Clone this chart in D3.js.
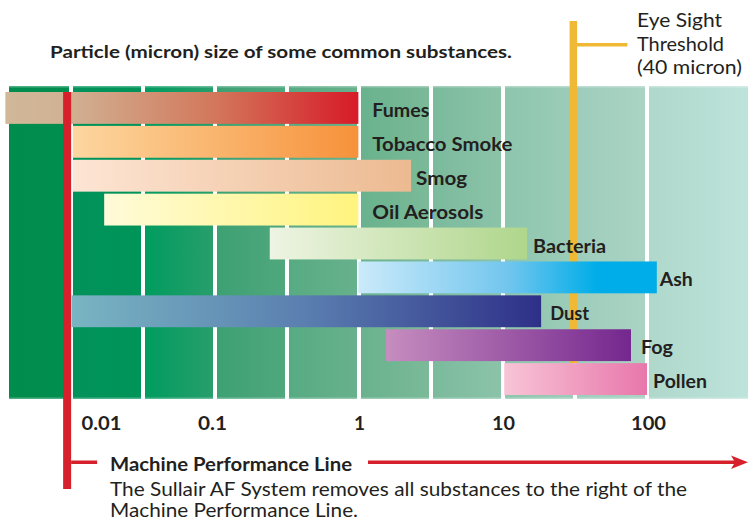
<!DOCTYPE html>
<html><head><meta charset="utf-8">
<script src="https://cdn.jsdelivr.net/npm/d3@7"></script>
<style>body{margin:0;background:#fff}svg{display:block}</style>
</head><body><svg id="c" width="748" height="524"></svg>
<script>
// ---------- data ----------
const substances = ["Fumes","Tobacco Smoke","Smog","Oil Aerosols","Bacteria","Ash","Dust","Fog","Pollen"];
const minSize = [0.0035, 0.0103, 0.0103, 0.017, 0.24, 0.99, 0.0101, 1.54, 10.2];
const maxSize = [0.99, 0.99, 2.3, 0.99, 14.7, 117, 18.4, 77.4, 100];
const tickValues = [0.01, 0.1, 1, 10, 100];
const tickLabels = ["0.01", "0.1", "1", "10", "100"];
const machineLine = 0.0094;   // micron, position of the machine performance line
const eyeThreshold = 30.8;    // micron, where the eye-sight line is drawn
const titleText = "Particle (micron) size of some common substances.";
const eyeLabel = ["Eye Sight", "Threshold", "(40 micron)"];
const machineTitle = "Machine Performance Line";
const machineNote = ["The Sullair AF System removes all substances to the right of the", "Machine Performance Line."];

// ---------- layout / style ----------
const W = 748, H = 524;
const FONT = "Lato, 'Open Sans', 'DejaVu Sans', sans-serif";
const INK = "#231F20";
const RED = "#D6212C", YELLOW = "#EFB935";
const svg = d3.select("#c");
const defs = svg.append("defs");

const x = d3.scaleLog().domain([0.01, 100]).range([71, 647]);
const y = d3.scaleBand().domain(substances).range([92, 395]).paddingInner(0.06);

function hgrad(id, stops) {
  const g = defs.append("linearGradient").attr("id", id)
    .attr("x1", 0).attr("x2", 1).attr("y1", 0).attr("y2", 0);
  stops.forEach(s => g.append("stop").attr("offset", s[0]).attr("stop-color", s[1]));
  return `url(#${id})`;
}
function fitText(sel, w) {
  if (w) sel.attr("textLength", w).attr("lengthAdjust", "spacingAndGlyphs");
}

// background columns (half-decade bands)
const colTop = 86, colBot = 399;
const colColors = [["#008C4C","#008E4F"],["#00925A","#009459"],["#009C5F","#289E6C"],["#3DA173","#50A87D"],
  ["#57AB82","#67B18C"],["#69B28D","#7BBA99"],["#7BBA9D","#8BC3A9"],["#8DC5AD","#9CCCB8"],
  ["#9ECDBB","#AAD3C4"],["#AFD8CB","#BEE3DB"]];
const colG = svg.append("g");
colColors.forEach((c, k) => {
  const l = k === 0 ? 9 : x(Math.pow(10, -2.5 + k / 2)) + 2;
  const r = k === colColors.length - 1 ? W : x(Math.pow(10, -2 + k / 2)) - 2;
  colG.append("rect").attr("x", l).attr("y", colTop).attr("width", r - l).attr("height", colBot - colTop)
    .attr("fill", hgrad("col" + k, [[0, c[0]], [1, c[1]]]));
  colG.append("rect").attr("x", l).attr("y", colTop).attr("width", r - l).attr("height", 1.5)
    .attr("fill", "#fff").attr("opacity", 0.3);
  colG.append("rect").attr("x", l).attr("y", colBot - 1.5).attr("width", r - l).attr("height", 1.5)
    .attr("fill", "#fff").attr("opacity", 0.3);
});

// eye-sight threshold line (behind bars)
const ex = x(eyeThreshold);
svg.append("rect").attr("x", ex - 3.75).attr("y", 21).attr("width", 7.5).attr("height", 342).attr("fill", YELLOW);
svg.append("rect").attr("x", ex + 3).attr("y", 43).attr("width", 51).attr("height", 3.5).attr("fill", YELLOW);
const eyeT = svg.append("text").attr("font-family", FONT).attr("font-weight", 400)
  .attr("font-size", 19).attr("fill", INK);
const eyeW = [85, 87, 105];
eyeLabel.forEach((t, i) => {
  eyeT.append("tspan").attr("x", 637).attr("y", 27 + i * 23.5).text(t)
    .attr("textLength", eyeW[i]).attr("lengthAdjust", "spacingAndGlyphs");
});

// bars
const barStops = [
  [[0,"#D0B899"],[0.19,"#D1B092"],[0.6,"#D3765A"],[1,"#D71A28"]],
  [[0,"#FDD6A0"],[0.5,"#F9B56E"],[1,"#F7913A"]],
  [[0,"#FDE5D4"],[1,"#ECBA91"]],
  [[0,"#FFFBD9"],[1,"#FFF47E"]],
  [[0,"#EEF4E3"],[1,"#AFD68B"]],
  [[0,"#CBEAFA"],[0.5,"#72C6EE"],[0.8,"#00ADE8"],[1,"#00ADE8"]],
  [[0,"#79B5C2"],[0.5,"#5A7EB0"],[1,"#2E3088"]],
  [[0,"#C68DBF"],[1,"#74278E"]],
  [[0,"#F8C4D6"],[1,"#E877AB"]]
];
svg.append("g").selectAll("rect").data(substances).join("rect")
  .attr("x", (d, i) => x(minSize[i]))
  .attr("y", d => y(d))
  .attr("width", (d, i) => x(maxSize[i]) - x(minSize[i]))
  .attr("height", y.bandwidth())
  .attr("fill", (d, i) => hgrad("bar" + i, barStops[i]));

// machine performance vertical line
const mx = x(machineLine);
svg.append("rect").attr("x", mx - 4).attr("y", y(substances[0])).attr("width", 8).attr("height", 489 - y(substances[0])).attr("fill", RED);

// bar labels
const labelDx = [14, 14, 5, 14, 6, 3, 9, 10, 6];
const labelW = [57, 140, 51, 111, 73, 33, 39, 32, 54];
svg.append("g").selectAll("text").data(substances).join("text")
  .attr("x", (d, i) => x(maxSize[i]) + labelDx[i])
  .attr("y", d => y(d) + y.bandwidth() / 2 + 9)
  .attr("font-family", FONT).attr("font-weight", 700).attr("font-size", 19).attr("fill", INK)
  .text(d => d)
  .each(function (d, i) { fitText(d3.select(this), labelW[i]); });

// title
svg.append("text").attr("x", 50).attr("y", 58).attr("font-family", FONT).attr("font-weight", 700)
  .attr("font-size", 17.5).attr("fill", INK).text(titleText).call(fitText, 462);

// axis
const axis = d3.axisBottom(x).tickValues(tickValues).tickFormat((d, i) => tickLabels[i]).tickSize(0);
const ag = svg.append("g").call(axis);
ag.select(".domain").remove();
const tickDx = [30, -3, 0, 0, 1];
const tickW = [40, 29, 0, 23, 35];
ag.selectAll("text").attr("y", 430).attr("dy", null)
  .attr("dx", (d, i) => tickDx[i])
  .attr("font-family", FONT).attr("font-weight", 700).attr("font-size", 19).attr("fill", INK)
  .each(function (d, i) { fitText(d3.select(this), tickW[i]); });

// machine performance line caption + arrow
svg.append("rect").attr("x", mx + 4).attr("y", 460.5).attr("width", 26).attr("height", 3.5).attr("fill", RED);
svg.append("rect").attr("x", 368).attr("y", 460.5).attr("width", 367).attr("height", 3.5).attr("fill", RED);
svg.append("path").attr("d", "M731,455.5 L748,462.25 L731,469 L735,462.25 Z").attr("fill", RED);
svg.append("text").attr("x", 110).attr("y", 471).attr("font-family", FONT).attr("font-weight", 700)
  .attr("font-size", 18).attr("fill", INK).text(machineTitle).call(fitText, 242);
const noteW = [577, 248];
machineNote.forEach((t, i) => {
  svg.append("text").attr("x", 110).attr("y", 496 + i * 21).attr("font-family", FONT).attr("font-weight", 400)
    .attr("font-size", 19).attr("fill", INK).text(t).call(fitText, noteW[i]);
});
</script>
</body></html>
